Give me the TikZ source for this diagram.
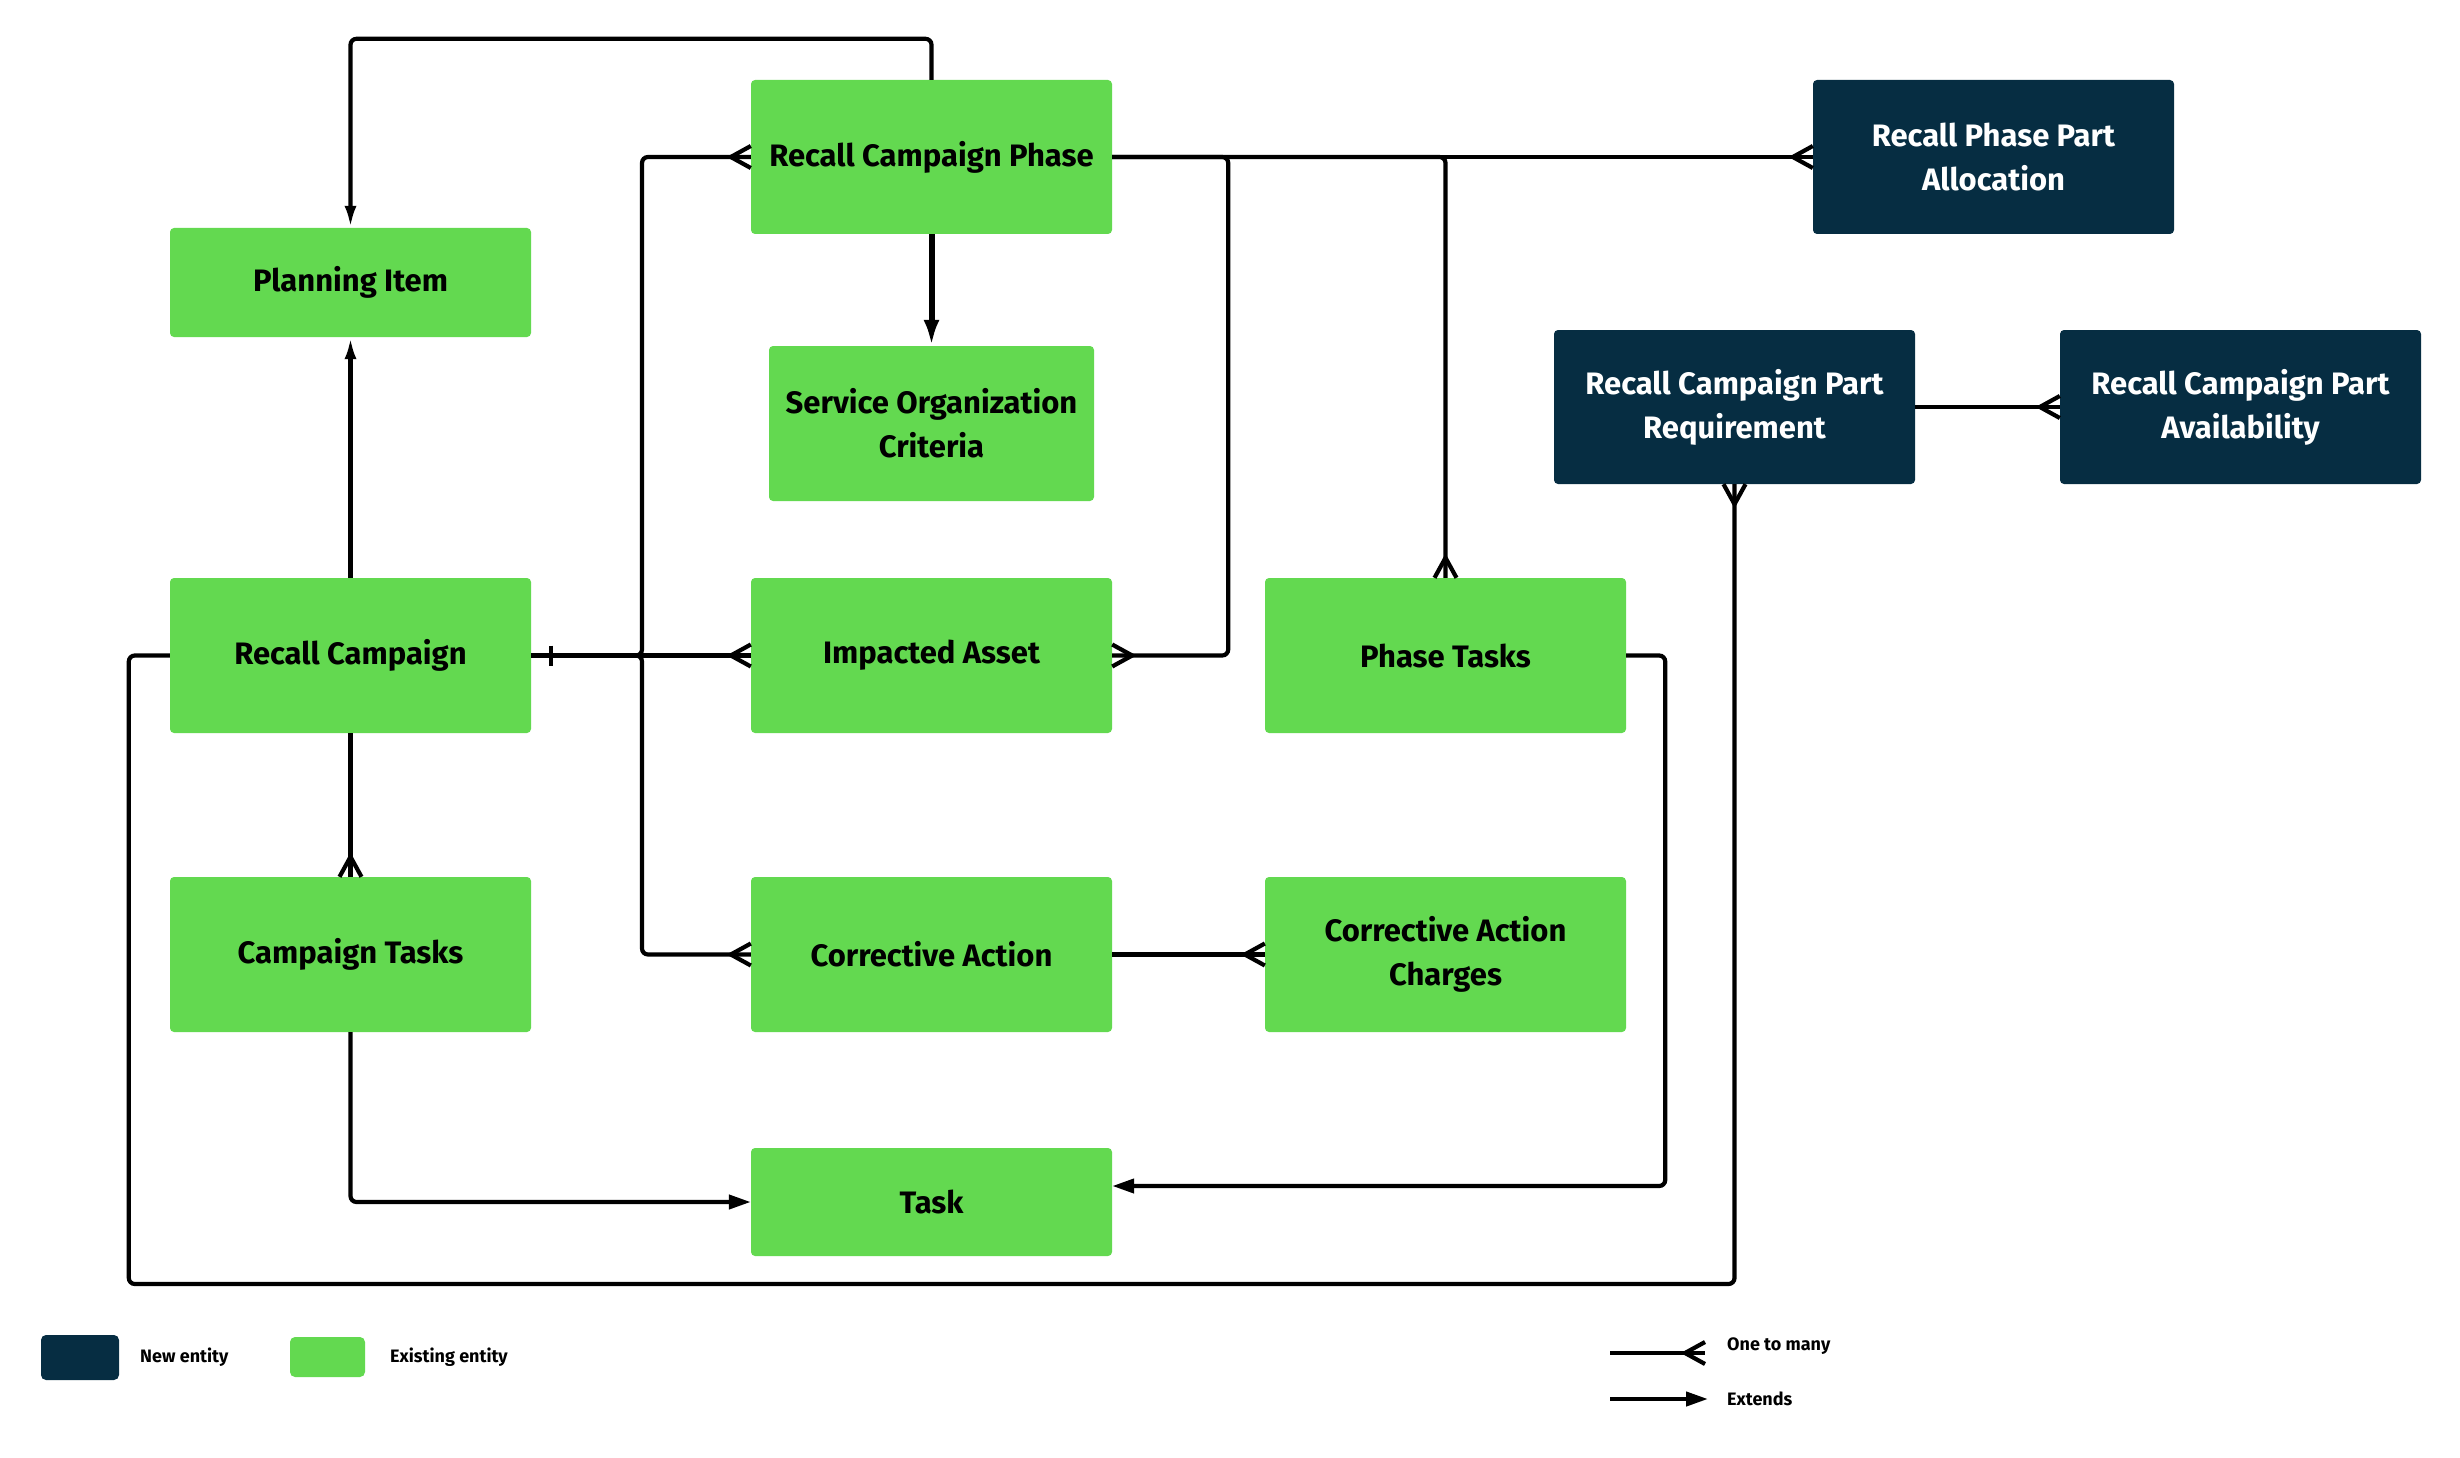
\documentclass[tikz,border=0pt]{standalone}
\usepackage{fontspec}
\setmainfont{Fira Sans}
\usetikzlibrary{arrows.meta,calc}
\definecolor{entgreen}{RGB}{99,217,80}
\definecolor{entnavy}{RGB}{6,45,66}
\tikzset{
  ent/.style={rectangle, rounded corners=4pt, inner sep=0pt, align=center,
    minimum width=361pt, minimum height=155pt,
    font=\bfseries\fontsize{31}{44}\selectfont},
  oldent/.style={ent, fill=entgreen, text=black},
  newent/.style={ent, fill=entnavy, text=white},
  conn/.style={draw=black, line width=4.2pt, rounded corners=6pt},
  crowline/.style={draw=black, line width=4.2pt},
  ext/.style={-{Latex[length=22pt,width=12pt]}},
  exttri/.style={-{Triangle[length=22pt,width=14pt]}},
  legtext/.style={anchor=west, inner sep=0pt, font=\bfseries\fontsize{18}{22}\selectfont},
  crowW/.pic={\draw[crowline] (0,-11) -- (-20,0) -- (0,11);},
  crowE/.pic={\draw[crowline] (0,-11) -- (20,0) -- (0,11);},
  crowN/.pic={\draw[crowline] (-11,0) -- (0,-20) -- (11,0);},
  crowS/.pic={\draw[crowline] (-11,0) -- (0,20) -- (11,0);},
}
\begin{document}
\begin{tikzpicture}[x=1pt,y=-1pt]
\useasboundingbox (0,0) rectangle (2460,1458);

% entities
\node[oldent, minimum height=154pt] (rcp) at (931.5,157) {Recall Campaign Phase};
\node[oldent, minimum height=109pt] (pi) at (350.5,282.5) {Planning Item};
\node[oldent, minimum width=325pt] (soc) at (931.5,423.5) {Service Organization\\Criteria};
\node[oldent] (rc) at (350.5,655.5) {Recall Campaign};
\node[oldent] (ia) at (931.5,655.5) {Impacted Asset};
\node[oldent] (pt) at (1445.5,655.5) {Phase Tasks};
\node[oldent] (ct) at (350.5,954.5) {Campaign Tasks};
\node[oldent] (ca) at (931.5,954.5) {Corrective Action};
\node[oldent] (cac) at (1445.5,954.5) {Corrective Action\\Charges};
\node[oldent, minimum height=108pt] (task) at (931.5,1202) {Task};
\node[newent, minimum height=154pt] (rppa) at (1993.5,157) {Recall Phase Part\\Allocation};
\node[newent, minimum height=154pt] (rcpr) at (1734.5,407) {Recall Campaign Part\\Requirement};
\node[newent, minimum height=154pt] (rcpa) at (2240.5,407) {Recall Campaign Part\\Availability};

% extends connectors
\draw[conn, ext] (rcp.north) -- ++(0,-41) -| (pi.north);
\draw[conn, ext] (rc.north) -- (pi.south);
\draw[conn, line width=6pt, -{Latex[length=26pt,width=16pt]}] (rcp.south) -- (soc.north);
\draw[conn, exttri] (ct.south) |- (task.west);
\draw[conn, exttri] (pt.east) -- ++(39,0) |- ($(task.east)+(0,-16)$);

% one-to-many connectors
\coordinate (jx) at (642,655.5);
\draw[conn] (rc.east) -- (ia.west);
\draw[conn] (rc.east) -- (jx) |- (rcp.west);
\draw[conn] (rc.east) -- (jx) |- (ca.west);
\draw[crowline] ($(rc.east)+(20,-10)$) -- ($(rc.east)+(20,10)$);
\pic at (ia.west) {crowW};
\pic at (rcp.west) {crowW};
\pic at (ca.west) {crowW};

\draw[conn] (rcp.east) -- ++(116,0) |- (ia.east);
\pic at (ia.east) {crowE};
\draw[conn] (rcp.east) -| (pt.north);
\pic at (pt.north) {crowN};
\draw[conn] (rcp.east) -- (rppa.west);
\pic at (rppa.west) {crowW};

\draw[conn] (rcpr.east) -- (rcpa.west);
\pic at (rcpa.west) {crowW};
\draw[conn] (ca.east) -- (cac.west);
\pic at (cac.west) {crowW};

\draw[conn] (rc.south) -- (ct.north);
\pic at (ct.north) {crowN};

\draw[conn] (rc.west) -- ++(-41,0) -- ++(0,628.5) -| (rcpr.south);
\pic at (rcpr.south) {crowS};

% legend
\node[rectangle, rounded corners=5pt, fill=entnavy, minimum width=78pt, minimum height=45pt, inner sep=0pt] (lnew) at (80,1357.5) {};
\node[legtext] (lnewt) at (140,1357) {New entity};
\node[rectangle, rounded corners=5pt, fill=entgreen, minimum width=75pt, minimum height=40pt, inner sep=0pt] (lold) at (327.5,1357) {};
\node[legtext] (loldt) at (390,1357) {Existing entity};
\coordinate (om1) at (1610,1353);
\coordinate (om2) at (1705,1353);
\draw[crowline] (om1) -- (om2);
\pic at (om2) {crowW};
\node[legtext] (omt) at (1727,1346) {One to many};
\coordinate (ex1) at (1610,1399);
\coordinate (ex2) at (1708,1399);
\draw[crowline, exttri] (ex1) -- (ex2);
\node[legtext] (ext) at (1727,1399) {Extends};
\end{tikzpicture}
\end{document}
